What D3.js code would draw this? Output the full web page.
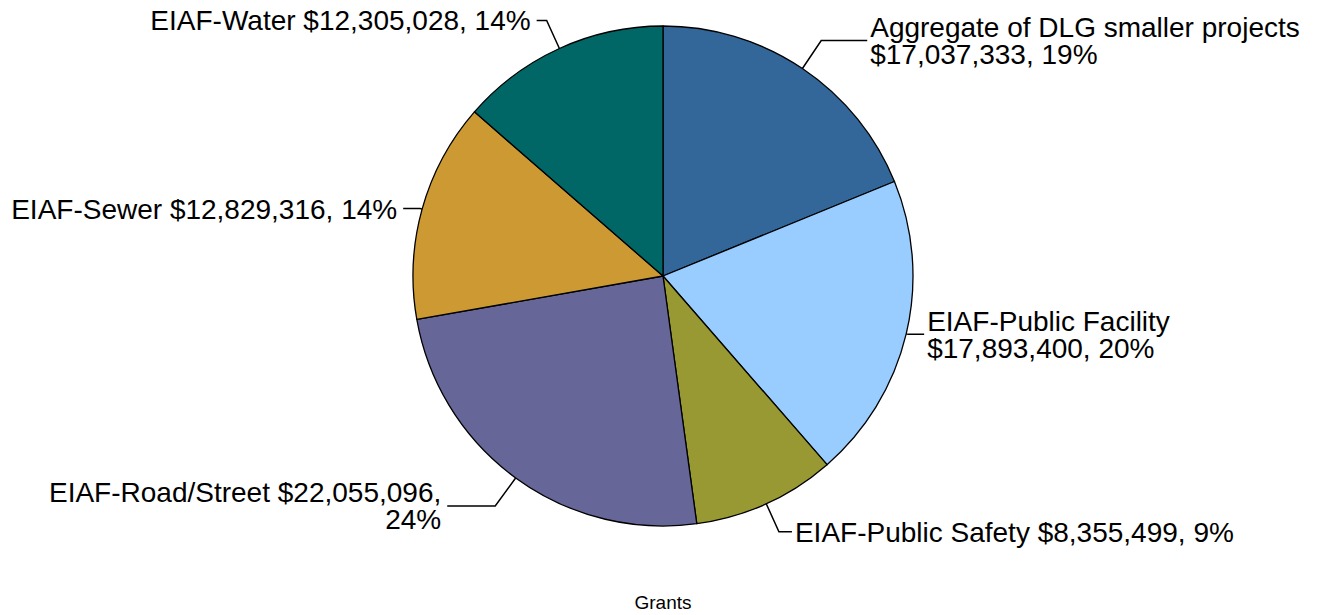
<!DOCTYPE html>
<html>
<head>
<meta charset="utf-8">
<script src="https://cdn.jsdelivr.net/npm/d3@7"></script>
<style>
  html, body { margin: 0; padding: 0; background: #fff; }
  text { font-family: "Liberation Sans", Arial, sans-serif; fill: #000; }
</style>
</head>
<body>
<div id="chart"></div>
<script>
// slice data, clockwise from 12 o'clock
const categories = [
  'Aggregate of DLG smaller projects',
  'EIAF-Public Facility',
  'EIAF-Public Safety',
  'EIAF-Road/Street',
  'EIAF-Sewer',
  'EIAF-Water'
];
const values = [17037333, 17893400, 8355499, 22055096, 12829316, 12305028];
const colors = ['#336699', '#99ccff', '#999933', '#666699', '#cc9933', '#006666'];
const title = 'Grants';

const width = 1319, height = 615;
const cx = 663, cy = 276, radius = 250;

// label layout: horizontal leader length and where to break the text
const labelLayout = {
  'Aggregate of DLG smaller projects': {leg: 46, brk: 'name'},
  'EIAF-Public Facility': {leg: 16, brk: 'name'},
  'EIAF-Public Safety': {leg: 13, brk: null},
  'EIAF-Road/Street': {leg: 48, brk: 'pct'},
  'EIAF-Sewer': {leg: 17, brk: null},
  'EIAF-Water': {leg: 10, brk: null}
};

let data = categories.map((c, i) => ({name: c, value: values[i], color: colors[i]}));
let total = d3.sum(values);
let fmt = d3.format(',');

let svg = d3.select('#chart').append('svg')
  .attr('width', width)
  .attr('height', height);

svg.append('rect').attr('width', width).attr('height', height).attr('fill', '#fff');

let pie = d3.pie().value(d => d.value).sort(null);
let arc = d3.arc().innerRadius(0).outerRadius(radius);
let arcs = pie(data);

let g = svg.append('g').attr('transform', `translate(${cx},${cy})`);

g.selectAll('path.slice')
  .data(arcs)
  .join('path')
  .attr('class', 'slice')
  .attr('d', arc)
  .attr('fill', d => d.data.color)
  .attr('stroke', '#000')
  .attr('stroke-width', 1.3)
  .attr('stroke-linejoin', 'round');

let lineH = 27;

arcs.forEach(a => {
  let mid = (a.startAngle + a.endAngle) / 2;
  let sx = Math.sin(mid), sy = -Math.cos(mid);
  let p0 = [radius * sx, radius * sy];
  // diagonal slices rise/fall ~28px along the radius, near horizontal ones go straight out
  let p1;
  if (Math.abs(sy) > 0.5) {
    let rise = 28;
    p1 = [p0[0] + rise * sx / Math.abs(sy), p0[1] + rise * Math.sign(sy)];
  } else {
    p1 = [p0[0] + 2 * sx, p0[1] + 2 * sy];
  }
  let side = sx >= 0 ? 1 : -1;
  let lay = labelLayout[a.data.name];
  let p2 = [p1[0] + side * lay.leg, p1[1]];

  g.append('path')
    .attr('d', d3.line()([p0, p1, p2]))
    .attr('fill', 'none')
    .attr('stroke', '#000')
    .attr('stroke-width', 1.5);

  let money = '$' + fmt(a.data.value);
  let pct = Math.round(a.data.value / total * 100) + '%';
  let lines;
  if (lay.brk === 'name') lines = [a.data.name, money + ', ' + pct];
  else if (lay.brk === 'pct') lines = [a.data.name + ' ' + money + ',', pct];
  else lines = [a.data.name + ' ' + money + ', ' + pct];

  let tx = p2[0] + (side > 0 ? 3 : -6);
  let y0 = p2[1] + 10 - (lines.length - 1) * lineH / 2;
  let t = g.append('text')
    .attr('x', tx)
    .attr('y', y0)
    .attr('font-size', 28)
    .attr('text-anchor', side > 0 ? 'start' : 'end');
  lines.forEach((l, i) => {
    t.append('tspan').attr('x', tx).attr('y', y0 + i * lineH).text(l);
  });
});

svg.append('text')
  .attr('x', cx)
  .attr('y', 609)
  .attr('text-anchor', 'middle')
  .attr('font-size', 19)
  .text(title);
</script>
</body>
</html>
